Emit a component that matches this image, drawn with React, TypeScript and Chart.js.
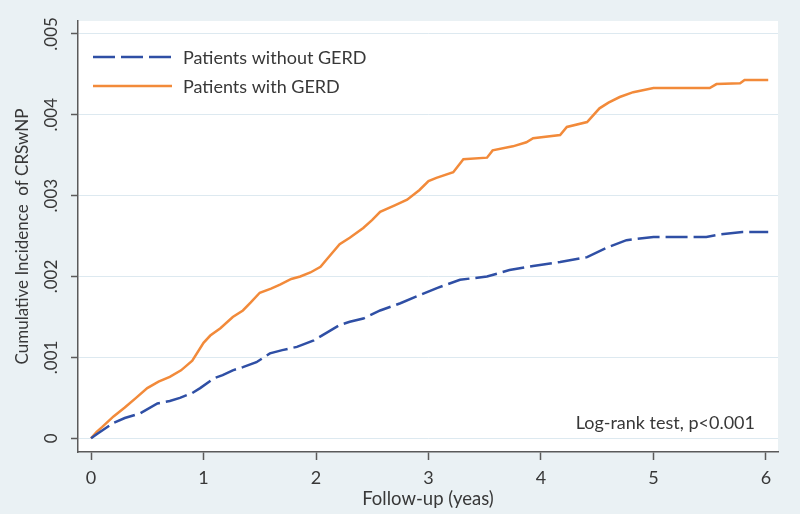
import React, { useEffect, useRef } from "react";
import { Chart, registerables } from "chart.js";
Chart.register(...registerables);

// Patients without GERD (blue dashed)
const withoutT = [0, 0.05, 0.2, 0.3, 0.44, 0.59, 0.7, 0.79, 0.9, 0.97, 1.09, 1.17, 1.26, 1.35, 1.47, 1.59, 1.7, 1.83, 1.98, 2.1, 2.21, 2.3, 2.42, 2.57, 2.75, 2.92, 3.08, 3.28, 3.52, 3.72, 3.93, 4.17, 4.41, 4.59, 4.76, 5.0, 5.47, 5.59, 5.79, 6.02];
const withoutV = [0, 0.00005, 0.00019, 0.00025, 0.00031, 0.00043, 0.00046, 0.0005, 0.00056, 0.00062, 0.00074, 0.00078, 0.00084, 0.00088, 0.00094, 0.00105, 0.00109, 0.00113, 0.00121, 0.00131, 0.0014, 0.00144, 0.00148, 0.00158, 0.00167, 0.00177, 0.00186, 0.00196, 0.002, 0.00208, 0.00213, 0.00218, 0.00224, 0.00236, 0.00245, 0.00249, 0.00249, 0.00252, 0.00255, 0.00255];

// Patients with GERD (orange solid)
const withT = [0, 0.05, 0.1, 0.2, 0.3, 0.4, 0.5, 0.6, 0.7, 0.8, 0.9, 1.0, 1.06, 1.15, 1.26, 1.35, 1.42, 1.5, 1.6, 1.68, 1.78, 1.86, 1.95, 2.04, 2.1, 2.21, 2.3, 2.42, 2.5, 2.57, 2.7, 2.81, 2.92, 3.0, 3.07, 3.22, 3.31, 3.52, 3.57, 3.75, 3.87, 3.93, 4.17, 4.23, 4.41, 4.52, 4.6, 4.7, 4.82, 5.0, 5.5, 5.56, 5.77, 5.81, 6.02];
const withV = [0, 0.00008, 0.00014, 0.00027, 0.00038, 0.0005, 0.00062, 0.0007, 0.00076, 0.00084, 0.00096, 0.00118, 0.00127, 0.00136, 0.0015, 0.00158, 0.00168, 0.0018, 0.00185, 0.0019, 0.00197, 0.002, 0.00205, 0.00212, 0.00222, 0.0024, 0.00248, 0.0026, 0.0027, 0.0028, 0.00288, 0.00295, 0.00307, 0.00318, 0.00322, 0.00329, 0.00345, 0.00347, 0.00356, 0.00361, 0.00366, 0.00371, 0.00375, 0.00385, 0.00391, 0.00408, 0.00415, 0.00422, 0.00428, 0.00433, 0.00433, 0.00438, 0.00439, 0.00443, 0.00443];

const seriesNames = ["Patients without GERD", "Patients with GERD"];
const xTicks = [0, 1, 2, 3, 4, 5, 6];
const xTickLabels = ["0", "1", "2", "3", "4", "5", "6"];
const yTicks = [0, 0.001, 0.002, 0.003, 0.004, 0.005];
const yTickLabels = ["0", ".001", ".002", ".003", ".004", ".005"];
const xTitle = "Follow-up (yeas)";
const yTitle = "Cumulative Incidence  of CRSwNP";
const note = "Log-rank test, p<0.001";

const FONT = "Lato, 'Open Sans', sans-serif";
const TEXT = "#383838";
const AXIS = "#5a5a5a";
const BLUE = "#2f4fa5";
const ORANGE = "#f28a3a";

const overlay = {
  id: "overlay",
  beforeDraw(chart: any) {
    const { ctx, chartArea: a } = chart;
    ctx.save();
    ctx.fillStyle = "#ffffff";
    ctx.fillRect(a.left, a.top, a.right - a.left, a.bottom - a.top);
    ctx.restore();
  },
  afterDraw(chart: any) {
    const { ctx, chartArea: a, scales } = chart;
    const xs = scales.x;
    const ys = scales.y;
    ctx.save();
    ctx.fillStyle = TEXT;
    ctx.textAlign = "center";
    ctx.textBaseline = "middle";
    ctx.font = `17px ${FONT}`;
    yTicks.forEach((v, i) => {
      const py = ys.getPixelForValue(v);
      ctx.save();
      ctx.translate(52, py);
      ctx.rotate(-Math.PI / 2);
      ctx.fillText(yTickLabels[i], 0, 0);
      ctx.restore();
    });
    ctx.font = `18px ${FONT}`;
    xTicks.forEach((v, i) => {
      ctx.fillText(xTickLabels[i], xs.getPixelForValue(v), 478);
    });
    ctx.font = `18.5px ${FONT}`;
    ctx.fillText(xTitle, (a.left + a.right) / 2, 499);
    ctx.font = `17px ${FONT}`;
    ctx.save();
    ctx.translate(23, (a.top + a.bottom) / 2);
    ctx.rotate(-Math.PI / 2);
    ctx.fillText(yTitle, 0, 0);
    ctx.restore();

    // legend
    const rows = [57, 86];
    chart.data.datasets.forEach((ds: any, i: number) => {
      const y = rows[i];
      ctx.save();
      ctx.strokeStyle = ds.borderColor;
      ctx.lineWidth = ds.borderWidth;
      ctx.setLineDash(ds.borderDash || []);
      ctx.beginPath();
      ctx.moveTo(93, y);
      ctx.lineTo(172, y);
      ctx.stroke();
      ctx.restore();
      ctx.textAlign = "left";
      ctx.font = `18px ${FONT}`;
      ctx.fillText(ds.label, 183, y + 1);
    });

    ctx.textAlign = "right";
    ctx.font = `18px ${FONT}`;
    ctx.fillText(note, 755, 423);
    ctx.restore();
  },
};

export default function App() {
  const ref = useRef<HTMLCanvasElement>(null);
  useEffect(() => {
    if (!ref.current) return;
    const chart = new Chart(ref.current, {
      type: "line",
      data: {
        datasets: [
          {
            label: seriesNames[0],
            data: withoutT.map((t, i) => ({ x: t, y: withoutV[i] })),
            borderColor: BLUE,
            borderWidth: 2.5,
            borderDash: [22, 6],
            pointRadius: 0,
            fill: false,
          },
          {
            label: seriesNames[1],
            data: withT.map((t, i) => ({ x: t, y: withV[i] })),
            borderColor: ORANGE,
            borderWidth: 2.5,
            pointRadius: 0,
            fill: false,
          },
        ],
      },
      options: {
        animation: false,
        responsive: false,
        devicePixelRatio: 1,
        layout: { padding: { top: 21, right: 22, left: 0, bottom: 0 } },
        plugins: { legend: { display: false }, tooltip: { enabled: false } },
        scales: {
          x: {
            type: "linear",
            min: -0.116,
            max: 6.107,
            afterBuildTicks: (s: any) => {
              s.ticks = xTicks.map((v) => ({ value: v }));
            },
            afterFit: (s: any) => {
              s.height = 62;
            },
            ticks: { display: false },
            grid: { drawOnChartArea: false, drawTicks: true, tickLength: 8, tickColor: AXIS, tickWidth: 1.5 },
            border: { color: AXIS, width: 1.5 },
          },
          y: {
            type: "linear",
            min: -0.00017,
            max: 0.00516,
            afterBuildTicks: (s: any) => {
              s.ticks = yTicks.map((v) => ({ value: v }));
            },
            afterFit: (s: any) => {
              s.width = 78;
            },
            ticks: { display: false },
            grid: { color: "#dde9f0", lineWidth: 1, drawTicks: true, tickLength: 7, tickColor: AXIS, tickWidth: 1.5 },
            border: { color: AXIS, width: 1.5 },
          },
        },
      } as any,
      plugins: [overlay],
    });
    return () => chart.destroy();
  }, []);
  return (
    <div style={{ position: "absolute", left: 0, top: 0, width: 800, height: 514, background: "#eaf1f4" }}>
      <canvas ref={ref} width={800} height={514} style={{ display: "block", width: 800, height: 514 }} />
    </div>
  );
}
